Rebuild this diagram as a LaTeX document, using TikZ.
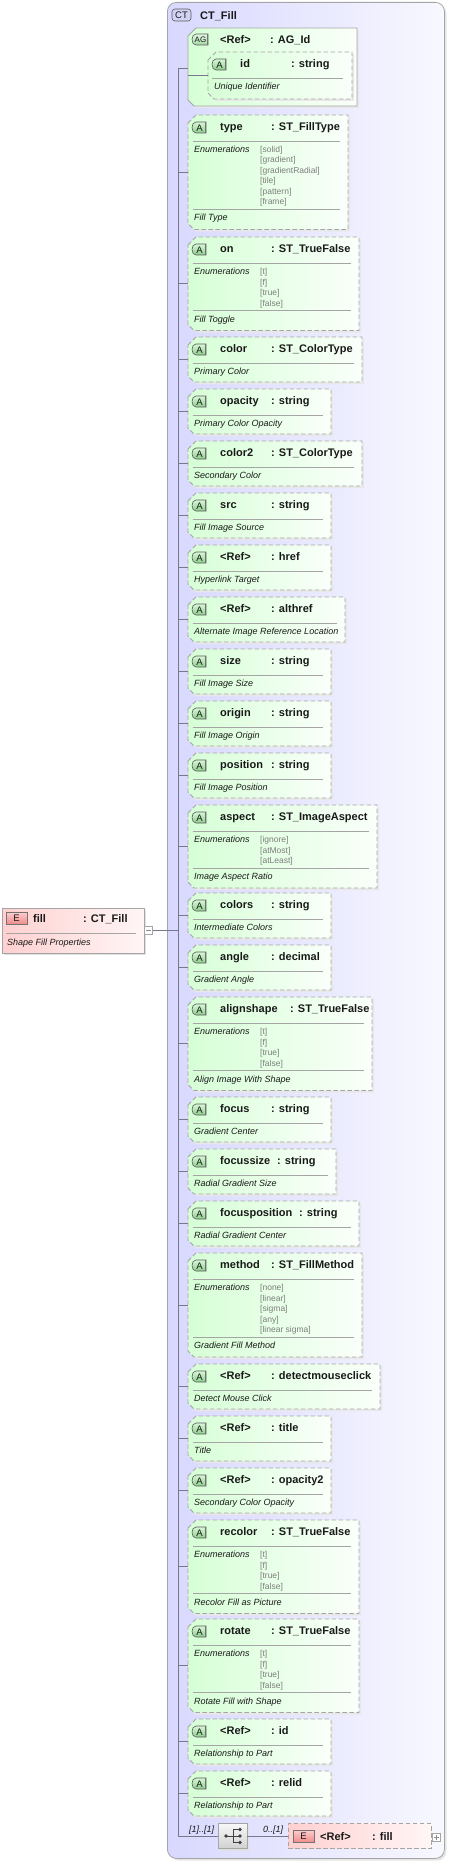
\documentclass[tikz,border=0pt]{standalone}
\usepackage{fontspec}
\setmainfont{Liberation Sans}
\definecolor{ctL}{RGB}{216,216,255}
\definecolor{ctR}{RGB}{248,248,255}
\definecolor{agreen}{RGB}{214,255,214}
\definecolor{agreenR}{RGB}{250,255,250}
\definecolor{epink}{RGB}{255,208,208}
\definecolor{epinkR}{RGB}{255,246,246}
\definecolor{bordergray}{RGB}{165,165,165}
\definecolor{linegray}{RGB}{120,120,140}
\definecolor{enumgray}{RGB}{125,125,125}
\definecolor{txt}{RGB}{25,25,25}
\definecolor{badgeT}{RGB}{215,248,215}
\definecolor{badgeB}{RGB}{140,205,140}
\definecolor{ebadgeT}{RGB}{255,205,205}
\definecolor{ebadgeB}{RGB}{240,140,140}
\definecolor{ctbadge}{RGB}{210,210,245}
\tikzset{
 hdr/.style={font=\fontsize{11}{12}\selectfont\bfseries, text=txt, anchor=base west, inner sep=0pt},
 dsc/.style={font=\fontsize{9}{10}\selectfont\itshape, text=txt, anchor=base west, inner sep=0pt},
 enm/.style={font=\fontsize{8.5}{10}\selectfont, text=enumgray, anchor=base west, inner sep=0pt},
 bord/.style={draw=bordergray, line width=0.8pt},
 optbord/.style={draw=bordergray, line width=0.8pt, dash pattern=on 4.5pt off 2.5pt},
 sepline/.style={draw=bordergray, line width=0.7pt},
 conn/.style={draw=linegray, line width=0.6pt},
 shadowfill/.style={fill=black!9},
 abadge/.style={top color=badgeT, bottom color=badgeB, draw=black!65, line width=0.6pt},
 agbadge/.style={top color=badgeT!70!white, bottom color=badgeB!80!white, draw=black!65, line width=0.6pt},
 ebadge/.style={top color=ebadgeT, bottom color=ebadgeB, draw=black!55, line width=0.6pt},
 bdgtxt/.style={font=\fontsize{9.5}{10}\selectfont, text=txt, inner sep=0pt},
 bdgtxts/.style={font=\fontsize{8}{8}\selectfont, text=txt, inner sep=0pt},
}
% chamfered box: left x, top, bottom, right, options
\newcommand\chbox[5]{%
 \path[#5] (#1,#2+8) -- (#1+8,#2) -- (#4,#2) -- (#4,#3) -- (#1+6,#3) -- (#1,#3-6) -- cycle;}
% badge: x, y, w, text, style, name
\newcommand\xbadge[7]{%
 \path[#5] (#1+#3,#2) -- (#1+4,#2) .. controls (#1+1.5,#2) and (#1,#2+2.5) .. (#1,#2+5.5) .. controls (#1,#2+8.5) and (#1+1.5,#2+11) .. (#1+4,#2+11) -- (#1+#3,#2+11) -- cycle;
 \draw[black!55, line width=1pt] (#1+#3-0.5,#2+0.3) -- (#1+#3-0.5,#2+10.7);
 \node[#7] (#6) at (#1+#3/2+0.5,#2+6) {#4};}
% attribute box
\newcommand\attrbox[9]{%
 \pgfmathsetmacro\tp{#2}%
 \ifnum#8=0\relax
   \pgfmathsetmacro\bt{#2+45}%
   \pgfmathsetmacro\sepb{#2+26}%
 \else
   \pgfmathsetmacro\bt{#2+51.5+10.5*#8}%
   \pgfmathsetmacro\sepb{#2+34+10.5*(#8-1)+8}%
 \fi
 \chbox{190}{\tp+2}{\bt+2}{#3+2}{shadowfill}
 \chbox{188}{\tp}{\bt}{#3}{left color=agreen,right color=agreenR}
 \chbox{188}{\tp}{\bt}{#3}{optbord}
 \coordinate (#1) at (188,{(\tp+\bt)/2});
 \coordinate (#1-s) at (178,{(\tp+\bt)/2});
 \draw[conn] (#1-s) -- (#1);
 \xbadge{192}{\tp+7}{14}{A}{abadge}{#1-b}{bdgtxt}
 \node[hdr] (#1-n) at (220,\tp+15.5) {#4};
 \node[hdr] (#1-t) at (#6,\tp+15.5) {#5};
 \draw[sepline] (193,\tp+26) -- (#3-8,\tp+26);
 \ifnum#8>0\relax
   \node[dsc] (#1-en) at (194,\tp+37.5) {Enumerations};
   \foreach \v [count=\i from 0] in {#9} {\node[enm] (#1-e\i) at (260,\tp+37.5+10.5*\i) {[\v]};}
   \draw[sepline] (193,\sepb) -- (#3-8,\sepb);
 \fi
 \node[dsc] (#1-d) at (194,\sepb+11.5) {#7};
}
\begin{document}
\begin{tikzpicture}[x=1pt,y=-1pt]
\useasboundingbox (0,0) rectangle (449,1862);
% ---- outer complex type
\fill[black!10, rounded corners=9] (169.5,4.5) rectangle (446.5,1860.5);
\node[draw=bordergray, line width=0.8pt, rounded corners=9, left color=ctL, right color=ctR,
      minimum width=277, minimum height=1856, inner sep=0pt, anchor=north west] (ct) at (167,2) {};
\path[draw=black!65, line width=0.6pt, fill=ctbadge, rounded corners=3] (172,9) rectangle (191,21);
\node[bdgtxt] (ctb) at (181.5,15.2) {CT};
\node[hdr] (ctname) at (200,19.5) {CT\_Fill};
% ---- spine
\coordinate (sp-top) at (178,68);
\coordinate (sp-bot) at (178,1836);
\draw[conn] (sp-top) -- (sp-bot);
% ---- attribute group
\chbox{190}{30}{108}{359}{shadowfill}
\chbox{188}{28}{106}{357}{left color=agreen,right color=agreenR}
\chbox{188}{28}{106}{357}{bord}
\coordinate (ag) at (188,68);
\draw[conn] (sp-top) -- (ag);
\xbadge{192}{34}{16}{AG}{agbadge}{ag-b}{bdgtxts}
\node[hdr] (ag-n) at (220,43.5) {<Ref>};
\node[hdr] (ag-t) at (270,43.5) {: AG\_Id};
% inner id
\chbox{210}{54}{101}{354}{shadowfill}
\chbox{208}{52}{99}{352}{left color=agreen,right color=agreenR}
\chbox{208}{52}{99}{352}{optbord}
\coordinate (agin) at (188,75);
\coordinate (idin) at (208,75);
\draw[conn] (agin) -- (idin);
\xbadge{212}{59}{14}{A}{abadge}{id-b}{bdgtxt}
\node[hdr] (id-n) at (240,67.5) {id};
\node[hdr] (id-t) at (291,67.5) {: string};
\draw[sepline] (212,78.5) -- (343,78.5);
\node[dsc] (id-d) at (214,90) {Unique Identifier};
% ---- attributes
\attrbox{type}{115}{348}{type}{: ST\_FillType}{271}{Fill Type}{6}{solid,gradient,gradientRadial,tile,pattern,frame}
\attrbox{on}{237}{359}{on}{: ST\_TrueFalse}{271}{Fill Toggle}{4}{t,f,true,false}
\attrbox{color}{337}{362}{color}{: ST\_ColorType}{271}{Primary Color}{0}{}
\attrbox{opacity}{389}{331}{opacity}{: string}{271}{Primary Color Opacity}{0}{}
\attrbox{colortwo}{441}{362}{color2}{: ST\_ColorType}{271}{Secondary Color}{0}{}
\attrbox{src}{493}{331}{src}{: string}{271}{Fill Image Source}{0}{}
\attrbox{href}{545}{331}{<Ref>}{: href}{271}{Hyperlink Target}{0}{}
\attrbox{althref}{597}{345}{<Ref>}{: althref}{271}{Alternate Image Reference Location}{0}{}
\attrbox{size}{649}{331}{size}{: string}{271}{Fill Image Size}{0}{}
\attrbox{origin}{701}{331}{origin}{: string}{271}{Fill Image Origin}{0}{}
\attrbox{position}{753}{331}{position}{: string}{271}{Fill Image Position}{0}{}
\attrbox{aspect}{805}{377}{aspect}{: ST\_ImageAspect}{271}{Image Aspect Ratio}{3}{ignore,atMost,atLeast}
\attrbox{colors}{893}{331}{colors}{: string}{271}{Intermediate Colors}{0}{}
\attrbox{angle}{945}{331}{angle}{: decimal}{271}{Gradient Angle}{0}{}
\attrbox{alignshape}{997}{372}{alignshape}{: ST\_TrueFalse}{290}{Align Image With Shape}{4}{t,f,true,false}
\attrbox{focus}{1097}{331}{focus}{: string}{271}{Gradient Center}{0}{}
\attrbox{focussize}{1149}{336}{focussize}{: string}{277}{Radial Gradient Size}{0}{}
\attrbox{focusposition}{1201}{359}{focusposition}{: string}{299}{Radial Gradient Center}{0}{}
\attrbox{method}{1253}{362}{method}{: ST\_FillMethod}{271}{Gradient Fill Method}{5}{none,linear,sigma,any,linear sigma}
\attrbox{detect}{1364}{380}{<Ref>}{: detectmouseclick}{271}{Detect Mouse Click}{0}{}
\attrbox{title}{1416}{331}{<Ref>}{: title}{271}{Title}{0}{}
\attrbox{opacitytwo}{1468}{331}{<Ref>}{: opacity2}{271}{Secondary Color Opacity}{0}{}
\attrbox{recolor}{1520}{359}{recolor}{: ST\_TrueFalse}{271}{Recolor Fill as Picture}{4}{t,f,true,false}
\attrbox{rotate}{1619}{359}{rotate}{: ST\_TrueFalse}{271}{Rotate Fill with Shape}{4}{t,f,true,false}
\attrbox{rid}{1719}{331}{<Ref>}{: id}{271}{Relationship to Part}{0}{}
\attrbox{relid}{1771}{331}{<Ref>}{: relid}{271}{Relationship to Part}{0}{}
% ---- sequence compositor and child element
\fill[black!12] (220,1826) rectangle (249,1851);
\node[draw=bordergray, line width=0.7pt, top color=black!3, bottom color=black!18,
      minimum width=29, minimum height=25, inner sep=0pt] (comp) at (232.5,1836) {};
\draw[conn] (sp-bot) -- (comp.west);
\node[dsc] (mult1) at (189,1832.5) {[1]..[1]};
\node[dsc] (mult2) at (263,1832.5) {0..[1]};
\begin{scope}[black!75, line width=0.7pt]
 \draw (226,1836) -- (233,1836);
 \draw (233,1829.5) -- (233,1842.5);
 \draw (233,1829.5) -- (240,1829.5) (233,1836) -- (240,1836) (233,1842.5) -- (240,1842.5);
 \fill (226,1836) circle (1.8) (240,1829.5) circle (1.8) (240,1836) circle (1.8) (240,1842.5) circle (1.8);
\end{scope}
\node[optbord, left color=epink, right color=epinkR, minimum width=143, minimum height=25,
      inner sep=0pt, anchor=west] (refel) at (288,1836) {};
\draw[conn] (comp.east) -- (refel.west);
\path[ebadge] (293,1830) rectangle (314,1842);
\node[bdgtxt] (refel-b) at (303.5,1836.3) {E};
\node[hdr] (refel-n) at (320,1840) {<Ref>};
\node[hdr] (refel-t) at (372,1840) {: fill};
\node[draw=bordergray, line width=0.6pt, fill=white, minimum size=8, inner sep=0pt] (plus) at (436,1837) {};
\draw[black!45, line width=0.6pt] (plus.center) ++(-2.5,0) -- ++(5,0) (plus.center) ++(0,-2.5) -- ++(0,5);
% ---- root element
\fill[black!12] (4,910) rectangle (146,955);
\node[bord, left color=epink, right color=epinkR, minimum width=142, minimum height=45,
      inner sep=0pt, anchor=north west] (fillel) at (2,908) {};
\path[ebadge] (6,912) rectangle (27,924);
\node[bdgtxt] (fillel-b) at (16.5,918.3) {E};
\node[hdr] (fillel-n) at (33,922) {fill};
\node[hdr] (fillel-t) at (83,922) {: CT\_Fill};
\draw[sepline] (6,933) -- (136,933);
\node[dsc] (fillel-d) at (7,945) {Shape Fill Properties};
\node[draw=bordergray, line width=0.6pt, fill=white, minimum size=8, inner sep=0pt] (minus) at (148.5,930.5) {};
\draw[black!45, line width=0.6pt] (minus.center) ++(-2.5,0) -- ++(5,0);
\coordinate (sp-fill) at (178,930.5);
\draw[conn] (minus.east) -- (sp-fill);
\end{tikzpicture}
\end{document}
